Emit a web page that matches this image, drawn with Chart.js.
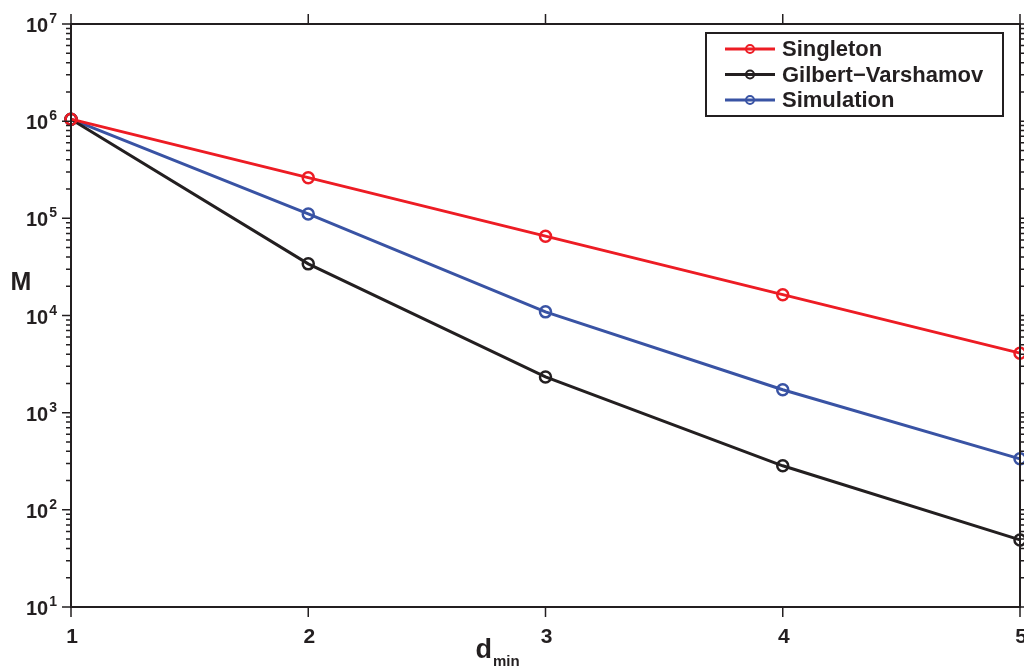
<!DOCTYPE html>
<html>
<head>
<meta charset="utf-8">
<script src="https://cdn.jsdelivr.net/npm/chart.js@4"></script>
<style>
    html, body { margin: 0; padding: 0; background: #fff; overflow: hidden; }
    canvas { display: block; }
</style>
</head>
<body>
<canvas id="chart" width="1024" height="667"></canvas>
<script>
// values
const dminValues = [1, 2, 3, 4, 5];
const singleton = [1048576, 262144, 65536, 16384, 4096];
const gilbertVarshamov = [1048576, 34000, 2330, 284, 49];
const simulation = [1048576, 111000, 10900, 1720, 335];
const xTickLabels = ['1', '2', '3', '4', '5'];
const yTickExponents = [1, 2, 3, 4, 5, 6, 7];

const FONT = '"Liberation Sans", Arial, sans-serif';
const AXIS_COLOR = '#231f20';

function series(label, values, color) {
    return {
        label: label,
        data: dminValues.map((x, i) => ({ x: x, y: values[i] })),
        borderColor: color,
        backgroundColor: color,
        borderWidth: 3,
        pointRadius: 5.5,
        pointBorderWidth: 2.5,
        pointBackgroundColor: 'rgba(0,0,0,0)',
        pointBorderColor: color,
        tension: 0,
        clip: false
    };
}

// frame, outward ticks, superscript labels, axis titles and legend
const matlabAxes = {
    id: 'matlabAxes',
    afterDraw(chart) {
        const ctx = chart.ctx;
        const a = chart.chartArea;
        const xs = chart.scales.x;
        const ys = chart.scales.y;
        ctx.save();
        ctx.strokeStyle = AXIS_COLOR;
        ctx.fillStyle = AXIS_COLOR;
        ctx.lineWidth = 2;
        ctx.strokeRect(a.left, a.top, a.right - a.left, a.bottom - a.top);

        // x ticks (bottom and top, outward)
        ctx.lineWidth = 1.5;
        dminValues.forEach(v => {
            const px = xs.getPixelForValue(v);
            ctx.beginPath();
            ctx.moveTo(px, a.bottom); ctx.lineTo(px, a.bottom + 10);
            ctx.moveTo(px, a.top); ctx.lineTo(px, a.top - 10);
            ctx.stroke();
        });

        // y ticks, major and minor (left and right, outward)
        yTickExponents.forEach((e, idx) => {
            const base = Math.pow(10, e);
            const py = ys.getPixelForValue(base);
            ctx.beginPath();
            ctx.moveTo(a.left, py); ctx.lineTo(a.left - 9, py);
            ctx.moveTo(a.right, py); ctx.lineTo(a.right + 9, py);
            ctx.stroke();
            if (idx < yTickExponents.length - 1) {
                for (let m = 2; m <= 9; m++) {
                    const my = ys.getPixelForValue(base * m);
                    ctx.beginPath();
                    ctx.moveTo(a.left, my); ctx.lineTo(a.left - 5, my);
                    ctx.moveTo(a.right, my); ctx.lineTo(a.right + 5, my);
                    ctx.stroke();
                }
            }
        });

        // x tick labels
        ctx.textAlign = 'center';
        ctx.textBaseline = 'alphabetic';
        ctx.font = 'bold 21px ' + FONT;
        dminValues.forEach((v, i) => {
            ctx.fillText(xTickLabels[i], xs.getPixelForValue(v) + 1, a.bottom + 36);
        });

        // y tick labels 10^n
        yTickExponents.forEach(e => {
            const py = ys.getPixelForValue(Math.pow(10, e));
            ctx.font = 'bold 14px ' + FONT;
            const ew = ctx.measureText(String(e)).width;
            ctx.textAlign = 'right';
            ctx.textBaseline = 'alphabetic';
            ctx.fillText(String(e), 57, py - 1);
            ctx.font = 'bold 20px ' + FONT;
            ctx.fillText('10', 57 - ew - 1, py + 8);
        });

        // axis titles
        ctx.textAlign = 'center';
        ctx.textBaseline = 'alphabetic';
        ctx.font = 'bold 25px ' + FONT;
        ctx.fillText('M', 21, 290);
        ctx.font = 'bold 27px ' + FONT;
        ctx.textAlign = 'right';
        ctx.fillText('d', 492, 658);
        ctx.font = 'bold 15px ' + FONT;
        ctx.textAlign = 'left';
        ctx.fillText('min', 493, 666);

        // legend
        const lx = 706, ly = 33, lw = 297, lh = 83;
        ctx.fillStyle = '#fff';
        ctx.fillRect(lx, ly, lw, lh);
        ctx.strokeStyle = AXIS_COLOR;
        ctx.lineWidth = 2;
        ctx.strokeRect(lx, ly, lw, lh);
        ctx.font = 'bold 22px ' + FONT;
        ctx.textAlign = 'left';
        ctx.textBaseline = 'middle';
        chart.data.datasets.forEach((ds, i) => {
            const ry = 49 + i * 25.5;
            ctx.strokeStyle = ds.borderColor;
            ctx.lineWidth = 3;
            ctx.beginPath();
            ctx.moveTo(725, ry); ctx.lineTo(775, ry);
            ctx.stroke();
            ctx.lineWidth = 2;
            ctx.beginPath();
            ctx.arc(750, ry, 4, 0, Math.PI * 2);
            ctx.stroke();
            ctx.fillStyle = AXIS_COLOR;
            ctx.fillText(ds.label, 782, ry + 1);
        });
        ctx.restore();
    }
};

new Chart(document.getElementById('chart'), {
    type: 'line',
    data: {
        datasets: [
            series('Singleton', singleton, 'rgb(237, 28, 36)'),
            series('Gilbert\u2212Varshamov', gilbertVarshamov, 'rgb(35, 31, 32)'),
            series('Simulation', simulation, 'rgb(57, 83, 164)')
        ]
    },
    options: {
        responsive: false,
        animation: false,
        layout: { autoPadding: false, padding: { top: 24, right: 4, left: 0, bottom: 0 } },
        plugins: {
            legend: { display: false },
            tooltip: { enabled: false }
        },
        scales: {
            x: {
                type: 'linear',
                min: 1,
                max: 5,
                ticks: { display: false },
                grid: { display: false, drawTicks: false },
                border: { display: false },
                afterFit(s) { s.height = 60; }
            },
            y: {
                type: 'logarithmic',
                min: 10,
                max: 1e7,
                ticks: { display: false },
                grid: { display: false, drawTicks: false },
                border: { display: false },
                afterFit(s) { s.width = 71; }
            }
        }
    },
    plugins: [matlabAxes]
});
</script>
</body>
</html>
